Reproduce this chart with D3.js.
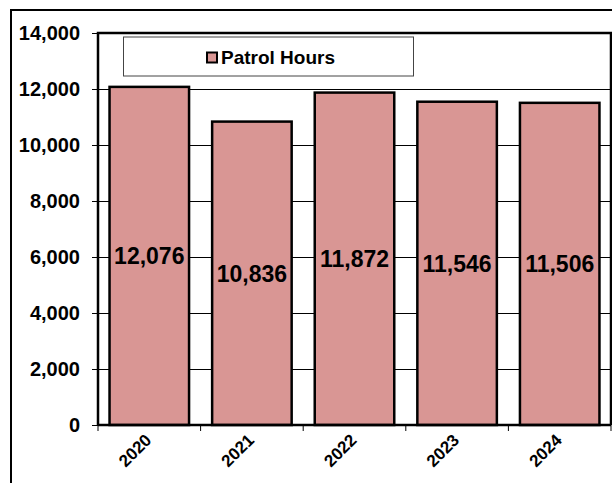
<!DOCTYPE html>
<html>
<head>
<meta charset="utf-8">
<script src="https://cdn.jsdelivr.net/npm/d3@7"></script>
<style>
  body { margin: 0; background: #fff; }
  svg { display: block; font-family: Arial, "Liberation Sans", sans-serif; }
</style>
</head>
<body>
<div id="chart"></div>
<script>
// Chart data
var years = ["2020", "2021", "2022", "2023", "2024"];
var patrolHours = [12076, 10836, 11872, 11546, 11506];
var yTicks = [0, 2000, 4000, 6000, 8000, 10000, 12000, 14000];
var seriesName = "Patrol Hours";

// Define svg dimensions
var svgWidth = 612;
var svgHeight = 483;

// Plot area edges
var plot = { left: 98, right: 611, top: 33, bottom: 425 };
var barColor = "#d99694";

var svg = d3.select("#chart")
  .append("svg")
  .attr("width", svgWidth)
  .attr("height", svgHeight);

// Outer frame
svg.append("rect")
  .attr("x", 11)
  .attr("y", 10)
  .attr("width", 640)
  .attr("height", 520)
  .attr("fill", "none")
  .attr("stroke", "#000")
  .attr("stroke-width", 2);

// Scales
var xScale = d3.scaleBand()
  .domain(years)
  .range([plot.left, plot.right])
  .paddingInner(0.225)
  .paddingOuter(0.1125);

var yScale = d3.scaleLinear()
  .domain([0, 14000])
  .range([plot.bottom, plot.top]);

// Gridlines with outside tick marks
var leftAxis = d3.axisLeft(yScale)
  .tickValues(yTicks)
  .tickSize(-(plot.right - plot.left))
  .tickFormat(d3.format(","));

var yAxis = svg.append("g")
  .attr("transform", `translate(${plot.left}, 0)`)
  .call(leftAxis);

yAxis.select(".domain").remove();
yAxis.selectAll(".tick line")
  .attr("x1", -6)
  .attr("stroke", "#000")
  .attr("stroke-width", 1);
yAxis.selectAll(".tick text")
  .attr("x", -18)
  .attr("font-size", "20px")
  .attr("font-weight", "bold")
  .attr("fill", "#000");

// Bars
svg.append("g")
  .selectAll("rect")
  .data(patrolHours)
  .enter()
  .append("rect")
  .attr("x", (d, i) => xScale(years[i]))
  .attr("y", d => yScale(d))
  .attr("width", xScale.bandwidth())
  .attr("height", d => yScale(0) - yScale(d))
  .attr("fill", barColor)
  .attr("stroke", "#000")
  .attr("stroke-width", 2.5);

// Bar value labels
svg.append("g")
  .selectAll("text")
  .data(patrolHours)
  .enter()
  .append("text")
  .attr("x", (d, i) => xScale(years[i]) + xScale.bandwidth() / 2)
  .attr("y", d => (yScale(d) + yScale(0)) / 2)
  .attr("dy", "0.36em")
  .attr("text-anchor", "middle")
  .attr("font-size", "23px")
  .attr("font-weight", "bold")
  .text(d => d3.format(",")(d));

// Plot area frame (left, top, right)
svg.append("path")
  .attr("d", `M${plot.left},${plot.bottom}V${plot.top}H${plot.right}V${plot.bottom}`)
  .attr("fill", "none")
  .attr("stroke", "#000")
  .attr("stroke-width", 2.5);

// Bottom axis line and category ticks
svg.append("line")
  .attr("x1", plot.left)
  .attr("x2", plot.right)
  .attr("y1", plot.bottom)
  .attr("y2", plot.bottom)
  .attr("stroke", "#000")
  .attr("stroke-width", 2.5);

var step = xScale.step();
svg.append("g")
  .selectAll("line")
  .data(d3.range(years.length + 1))
  .enter()
  .append("line")
  .attr("x1", i => plot.left + i * step)
  .attr("x2", i => plot.left + i * step)
  .attr("y1", plot.bottom)
  .attr("y2", plot.bottom + 6)
  .attr("stroke", "#000")
  .attr("stroke-width", 1);

// Rotated year labels
svg.append("g")
  .selectAll("text")
  .data(years)
  .enter()
  .append("text")
  .attr("transform", d => `translate(${xScale(d) + xScale.bandwidth() / 2 - 1}, ${plot.bottom + 12}) rotate(-45)`)
  .attr("text-anchor", "end")
  .attr("dy", "0.35em")
  .attr("font-size", "17px")
  .attr("font-weight", "bold")
  .text(d => d);

// Legend
var legend = svg.append("g");
legend.append("rect")
  .attr("x", 123.5)
  .attr("y", 37)
  .attr("width", 290)
  .attr("height", 39)
  .attr("fill", "#fff")
  .attr("stroke", "#444")
  .attr("stroke-width", 1);
legend.append("rect")
  .attr("x", 207)
  .attr("y", 52.5)
  .attr("width", 10)
  .attr("height", 10)
  .attr("fill", barColor)
  .attr("stroke", "#000")
  .attr("stroke-width", 2);
legend.append("text")
  .attr("x", 221)
  .attr("y", 57)
  .attr("dy", "0.36em")
  .attr("font-size", "19px")
  .attr("font-weight", "bold")
  .text(seriesName);
</script>
</body>
</html>
